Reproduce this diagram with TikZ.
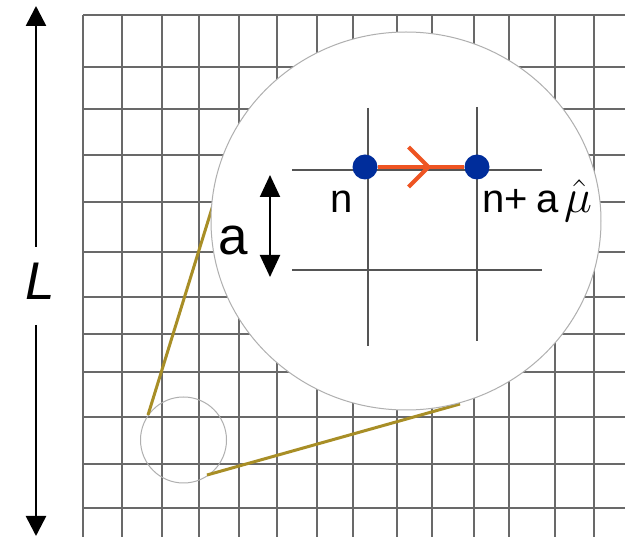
\documentclass[tikz,border=0pt]{standalone}
\usepackage{graphicx}
\usepackage{fontspec}
\setmainfont{Liberation Sans}
\usetikzlibrary{arrows.meta,decorations.markings}
\definecolor{gridc}{RGB}{105,105,105}
\definecolor{rimc}{RGB}{175,175,175}
\definecolor{goldc}{RGB}{168,142,38}
\definecolor{dotc}{RGB}{0,45,155}
\definecolor{linkc}{RGB}{238,84,34}
\definecolor{latc}{RGB}{85,85,85}
\begin{document}
\begin{tikzpicture}[x=1pt,y=-1pt,
  gridline/.style={draw=gridc,line width=1.6pt},
  rim/.style={draw=rimc,line width=1pt},
  zoomline/.style={draw=goldc,line width=3pt},
  latline/.style={draw=latc,line width=2.2pt},
  site/.style={circle,fill=dotc,minimum size=25pt,inner sep=0pt},
  link/.style={draw=linkc,line width=4pt},
  bigarrow/.style={line width=2.6pt,-{Triangle[length=20pt,width=20pt]}},
  dblarrow/.style={line width=2pt,{Triangle[length=22pt,width=20pt]}-{Triangle[length=22pt,width=20pt]}},
  lab/.style={inner sep=0pt,anchor=base}]
\useasboundingbox (0,0) rectangle (625,537);
\fill[white] (0,0) rectangle (625,537);
% background lattice
\foreach \x in {83,122,162,199,239,277,317,353,397,432,474,509,555,594}
  \draw[gridline] (\x,15) -- (\x,537);
\foreach \y in {15,67,109,155,202,252,297,334,372,417,464,508}
  \draw[gridline] (83,\y) -- (625,\y);
% small circle and zoom lines
\draw[rim] (183.5,440) circle [radius=43pt];
\coordinate (z1a) at (148,415);
\coordinate (z1b) at (213,205);
\coordinate (z2a) at (207,475);
\coordinate (z2b) at (460,404);
\draw[zoomline] (z1a) -- (z1b);
\draw[zoomline] (z2a) -- (z2b);
% magnified view
\draw[rim,fill=white] (406,221) ellipse [x radius=195pt, y radius=189pt];
\draw[latline] (292,170) -- (542,170);
\draw[latline] (292,270) -- (542,270);
\draw[latline] (368,108) -- (368,346);
\draw[latline] (477,107) -- (477,341);
\node[site] (n1) at (365,167) {};
\node[site] (n2) at (477,167) {};
\draw[link,postaction={decorate},
  decoration={markings,mark=at position 0.62 with {\arrow{Straight Barb[length=20pt,width=40pt]}}}]
  (n1) -- (n2);
\node[lab,font=\fontsize{40}{48}\selectfont] (nl) at (342,213) {n};
\node[lab,font=\fontsize{40}{48}\selectfont,anchor=base west] (nml) at (482,213) {n+\hspace{9pt}a\hspace{5pt}\scalebox{1.9}{$\hat{\mu}$}};
% lattice spacing
\node[lab,font=\fontsize{53}{60}\selectfont] (al) at (233,255) {a};
\coordinate (at) at (270,175);
\coordinate (ab) at (270,277);
\draw[dblarrow] (at) -- (ab);
% system size
\node[lab,font=\itshape\fontsize{53}{60}\selectfont] (L) at (40,300) {L};
\coordinate (Lt0) at (36,247);
\coordinate (Lt1) at (36,6);
\coordinate (Lb0) at (36,325);
\coordinate (Lb1) at (36,536);
\draw[bigarrow] (Lt0) -- (Lt1);
\draw[bigarrow] (Lb0) -- (Lb1);
\end{tikzpicture}
\end{document}
